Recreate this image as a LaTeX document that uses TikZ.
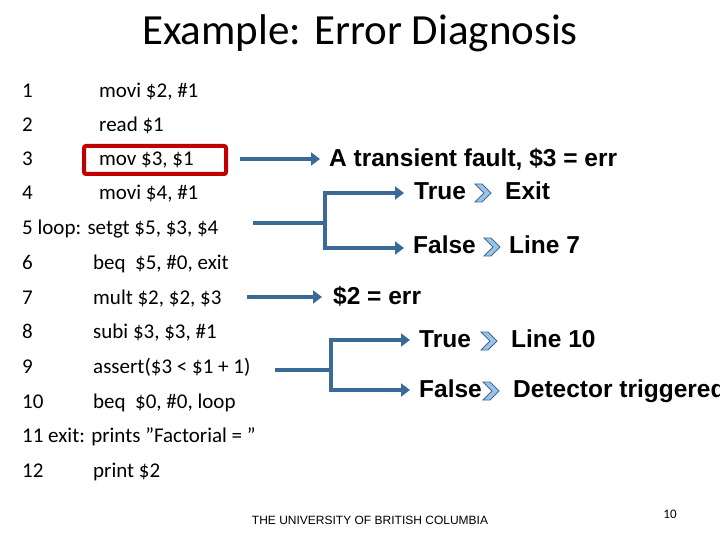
\documentclass[tikz,border=0pt]{standalone}
\usepackage{fontspec}
\setmainfont{Carlito}
\newfontfamily\arial{Liberation Sans}
\usetikzlibrary{arrows.meta}
\definecolor{ablue}{HTML}{3C6A98}
\definecolor{cfill}{HTML}{9DC3E6}
\definecolor{dred}{HTML}{C00000}
\tikzset{
 code/.style={anchor=base west,inner sep=0pt,font=\fontsize{21}{21}\selectfont},
 res/.style={anchor=base west,inner sep=0pt,font=\arial\bfseries\fontsize{24.5}{24.5}\selectfont},
 conn/.style={ablue,line width=3.5pt},
 arr/.style={conn,-{Triangle[length=9pt,width=13pt]}},
}
\newcommand{\chev}[2]{\fill[cfill,draw=ablue,line width=0.8pt] (#1-8,#2-9) -- (#1-1,#2-9) -- (#1+8,#2) -- (#1-1,#2+9) -- (#1-8,#2+9) -- (#1+1,#2) -- cycle;}
\begin{document}
\begin{tikzpicture}[x=1pt,y=-1pt]
\useasboundingbox (0,0) rectangle (720,540);
\node[font=\fontsize{43}{43}\selectfont,inner sep=0pt] (title) at (360,33) {Example: Error Diagnosis};
\foreach \n/\y/\t/\x in {1/98/{movi \$2, \#1}/99, 2/132/{read \$1}/99, 3/166/{mov \$3, \$1}/99, 4/200/{movi \$4, \#1}/99, 6/269/{beq \ \$5, \#0, exit}/93, 7/304/{mult \$2, \$2, \$3}/93, 8/338/{subi \$3, \$3, \#1}/93, 9/373/{assert(\$3 < \$1 + 1)}/93, 10/408/{beq \ \$0, \#0, loop}/93, 12/477/{print \$2}/93}{
 \node[code] (n\n) at (22,\y) {\n};
 \node[code] (c\n) at (\x,\y) {\t};
}
\node[code] (c5) at (22,235) {5 loop: setgt \$5, \$3, \$4};
\node[code] (c11) at (22,442) {11 exit: prints \symbol{34}Factorial = \symbol{34}};
\draw[dred,line width=4pt,rounded corners=2pt] (84,146) rectangle (226,174);
% results
\node[res] (r1) at (329,167) {A transient fault, \$3 = err};
\node[res] (t1) at (414,200) {True};
\node[res] (e1) at (505,200) {Exit};
\node[res] (f1) at (413,254) {False};
\node[res] (l7) at (509,254) {Line 7};
\node[res] (r2) at (333,304) {\$2 = err};
\node[res] (t2) at (419,347) {True};
\node[res] (l10) at (511,347) {Line 10};
\node[res] (f2) at (419,397) {False};
\node[res] (dt) at (513,397) {Detector triggered};
\chev{483}{193}\chev{492}{247}\chev{489}{341}\chev{491}{391}
\coordinate (a3) at (240,159);\coordinate (b3) at (320,159);
\draw[arr] (a3) -- (b3);
\coordinate (a7) at (247,297);\coordinate (b7) at (322,297);
\draw[arr] (a7) -- (b7);
\coordinate (h1) at (253,223);\coordinate (j1) at (325,223);
\coordinate (u1) at (325,193);\coordinate (d1) at (325,248);
\coordinate (ut1) at (404,193);\coordinate (dt1) at (404,248);
\draw[conn] (h1) -- (j1);
\draw[arr] (j1) -- (u1) -- (ut1);
\draw[arr] (j1) -- (d1) -- (dt1);
\coordinate (h2) at (275,370);\coordinate (j2) at (331,370);
\coordinate (u2) at (331,340);\coordinate (d2) at (331,390);
\coordinate (ut2) at (410,340);\coordinate (dt2) at (410,390);
\draw[conn] (h2) -- (j2);
\draw[arr] (j2) -- (u2) -- (ut2);
\draw[arr] (j2) -- (d2) -- (dt2);
\node[font=\arial\fontsize{12}{12}\selectfont,inner sep=0pt] (ubc) at (370,520) {THE UNIVERSITY OF BRITISH COLUMBIA};
\node[font=\fontsize{13}{13}\selectfont,inner sep=0pt] (pg) at (670,514) {10};
\end{tikzpicture}
\end{document}
